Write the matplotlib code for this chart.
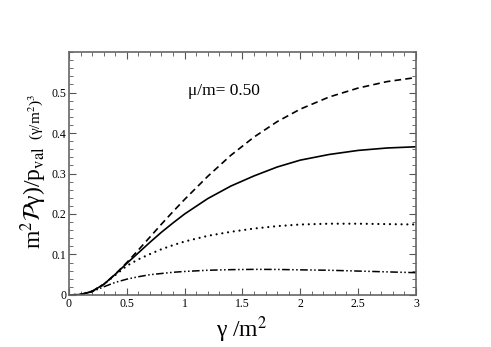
import matplotlib
matplotlib.use("Agg")
import matplotlib.pyplot as plt
from matplotlib.ticker import MultipleLocator

plt.rcParams['font.family'] = 'Liberation Serif'
plt.rcParams['mathtext.fontset'] = 'stix'

# gamma/m^2 grid
gamma = [0, 0.1, 0.2, 0.3, 0.4, 0.5, 0.6, 0.7, 0.8, 0.9, 1.0,
         1.2, 1.4, 1.6, 1.8, 2.0, 2.25, 2.5, 2.75, 3.0]

dashed = [0, 0.001, 0.009, 0.026, 0.051, 0.08, 0.111, 0.143, 0.175, 0.206, 0.236,
          0.293, 0.345, 0.39, 0.428, 0.459, 0.489, 0.511, 0.527, 0.537]
solid = [0, 0.001, 0.009, 0.026, 0.051, 0.078, 0.104, 0.13, 0.155, 0.178, 0.2,
         0.238, 0.269, 0.294, 0.316, 0.333, 0.347, 0.357, 0.363, 0.366]
dotted = [0, 0.001, 0.009, 0.026, 0.049, 0.072, 0.088, 0.101, 0.113, 0.123, 0.132,
          0.146, 0.156, 0.164, 0.17, 0.174, 0.176, 0.176, 0.175, 0.174]
dashdot = [0, 0.001, 0.008, 0.02, 0.031, 0.039, 0.045, 0.05, 0.053, 0.056, 0.058,
           0.061, 0.0625, 0.0632, 0.063, 0.062, 0.061, 0.059, 0.057, 0.055]

fig = plt.figure(figsize=(4.91, 3.47), dpi=100)
ax = fig.add_axes([0.1405, 0.15, 0.7065, 0.70])

ax.plot(gamma, dashed, color='black', lw=1.2, dashes=(4, 2.5))
ax.plot(gamma, solid, color='black', lw=1.2)
ax.plot(gamma, dotted, color='black', lw=1.6, dashes=(0.01, 2.6), dash_capstyle='round')
ax.plot(gamma, dashdot, color='black', lw=1.1, dashes=(5, 1.6, 1, 1.6, 1, 1.6))

ax.set_xlim(0, 3)
ax.set_ylim(0, 0.6)
ax.xaxis.set_minor_locator(MultipleLocator(0.1))
ax.yaxis.set_minor_locator(MultipleLocator(0.02))
ax.set_xticks([0, 0.5, 1, 1.5, 2, 2.5, 3])
ax.set_xticklabels(['0', '0.5', '1', '1.5', '2', '2.5', '3'])
ax.set_yticks([0, 0.1, 0.2, 0.3, 0.4, 0.5])
ax.set_yticklabels(['0', '0.1', '0.2', '0.3', '0.4', '0.5'])
ax.tick_params(which='both', direction='in', top=True, right=True,
               labelsize=8.5, color='#555555', pad=2)
ax.tick_params(which='major', length=5)
ax.tick_params(which='minor', length=3)
for s in ax.spines.values():
    s.set_color('#666666')
    s.set_linewidth(1.2)

ax.text(1.03, 0.505, 'μ/m= 0.50', fontsize=12.5, va='center', ha='left')

fig.text(242 / 491, 1 - 330 / 347, 'γ /m$^2$', fontsize=17,
         ha='center', va='center')
fig.text(34 / 491, 1 - 198 / 347, r'm$^2\mathcal{P}$γ)/p$_{\rm val}$',
         fontsize=17, rotation=90, ha='center', va='center')
fig.text(36 / 491, 1 - 117 / 347, '(γ/m$^2$)$^3$',
         fontsize=11, rotation=90, ha='center', va='center')

fig.savefig('out.png', dpi=100)
